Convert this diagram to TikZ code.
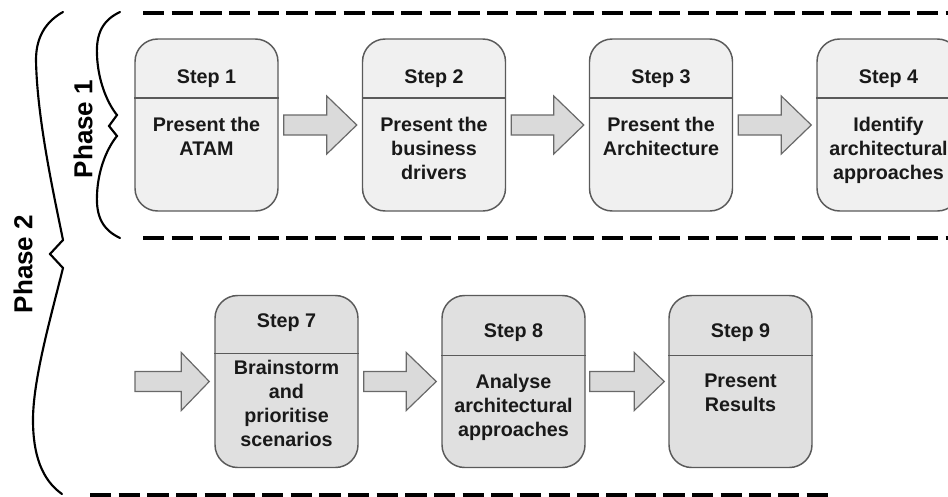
\documentclass[tikz,border=0pt]{standalone}
\usepackage{fontspec}
\setmainfont{Liberation Sans}
\usetikzlibrary{calc}
\definecolor{boxline}{RGB}{90,90,90}
\definecolor{boxlight}{RGB}{240,240,240}
\definecolor{boxdark}{RGB}{224,224,224}
\definecolor{arrowfill}{RGB}{218,218,218}
\definecolor{arrowline}{RGB}{105,105,105}

\begin{document}
\begin{tikzpicture}[x=0.75pt,y=0.75pt,yscale=-1,xscale=1,
  stepbox/.style={draw=boxline, line width=1.1pt, fill=boxlight, rounded corners=17pt, minimum width=107.25pt, minimum height=129pt, inner sep=0pt},
  stepboxdark/.style={stepbox, fill=boxdark},
  steptitle/.style={anchor=north, inner sep=0pt, text=black!90, font=\fontsize{14.8}{18}\selectfont\bfseries},
  steptext/.style={steptitle, align=center},
  divider/.style={draw=boxline, line width=1.1pt},
  blockarrow/.style={draw=arrowline, line width=0.9pt, fill=arrowfill, line join=miter},
  phaseline/.style={line width=2.6pt, dash pattern=on 16pt off 5.5pt},
  phasebrace/.style={line width=1.6pt, line cap=round},
  phaselabel/.style={rotate=90, inner sep=0pt, font=\fontsize{19.5}{22}\selectfont\bfseries}]
\useasboundingbox (0,0) rectangle (948,496);

%Shape: Phase lines
\draw[phaseline] (143,13) -- (948,13);
\draw[phaseline] (143,238) -- (948,238);
\draw[phaseline, line width=3.6pt] (90,495) -- (830,495);

%Shape: Brace Phase 1
\draw[phasebrace] (120,12) .. controls (103,20) and (96,33) .. (97,55) .. controls (98,82) and (108,104) .. (117,115) -- (109,126) -- (117,136) .. controls (108,147) and (98,168) .. (97,195) .. controls (96,217) and (103,230) .. (120,238);
%Shape: Brace Phase 2
\draw[phasebrace] (63,12) .. controls (45,22) and (36,38) .. (36,60) .. controls (37,120) and (55,200) .. (63,240) -- (50,254) -- (63,268) .. controls (50,320) and (33,380) .. (33,420) .. controls (33,455) and (42,480) .. (62,494);

% Text Node
\node[phaselabel] (ph1) at (83,129) {Phase 1};
\node[phaselabel] (ph2) at (23,264) {Phase 2};

% Phase 1 steps
\node[stepbox] (s1) at (206.5,125) {};
\node[stepbox] (s2) at (434,125) {};
\node[stepbox] (s3) at (661,125) {};
\node[stepbox] (s4) at (888.5,125) {};
\draw[divider] ($(s1.west)+(0,-27)$) -- ($(s1.east)+(0,-27)$);
\draw[divider] ($(s2.west)+(0,-27)$) -- ($(s2.east)+(0,-27)$);
\draw[divider] ($(s3.west)+(0,-27)$) -- ($(s3.east)+(0,-27)$);
\draw[divider] ($(s4.west)+(0,-27)$) -- ($(s4.east)+(0,-27)$);

\node[steptitle] (t1) at ($(s1.north)+(0,31)$) {Step 1};
\node[steptitle] (t2) at ($(s2.north)+(0,31)$) {Step 2};
\node[steptitle] (t3) at ($(s3.north)+(0,31)$) {Step 3};
\node[steptitle] (t4) at ($(s4.north)+(0,31)$) {Step 4};
\node[steptext] (b1) at ($(s1.north)+(0,79)$) {Present the\\ATAM};
\node[steptext] (b2) at ($(s2.north)+(0,79)$) {Present the\\business\\drivers};
\node[steptext] (b3) at ($(s3.north)+(0,79)$) {Present the\\Architecture};
\node[steptext] (b4) at ($(s4.north)+(0,79)$) {Identify\\architectural\\approaches};

% Phase 2 steps
\node[stepboxdark] (s7) at (286.5,381.5) {};
\node[stepboxdark] (s8) at (513.5,381.5) {};
\node[stepboxdark] (s9) at (740.5,381.5) {};
\draw[divider] ($(s7.west)+(0,-28)$) -- ($(s7.east)+(0,-28)$);
\draw[divider] ($(s8.west)+(0,-26)$) -- ($(s8.east)+(0,-26)$);
\draw[divider] ($(s9.west)+(0,-26)$) -- ($(s9.east)+(0,-26)$);

\node[steptitle] (t7) at ($(s7.north)+(0,19)$) {Step 7};
\node[steptitle] (t8) at ($(s8.north)+(0,29)$) {Step 8};
\node[steptitle] (t9) at ($(s9.north)+(0,29)$) {Step 9};
\node[steptext] (b7) at ($(s7.north)+(0,65)$) {Brainstorm\\and\\prioritise\\scenarios};
\node[steptext] (b8) at ($(s8.north)+(0,79)$) {Analyse\\architectural\\approaches};
\node[steptext] (b9) at ($(s9.north)+(0,79)$) {Present\\Results};

% Arrows
\draw[blockarrow] ($(s1.east)+(5,-10)$) -- ($(s2.west)+(-35,-10)$) -- ($(s2.west)+(-35,-29)$) -- ($(s2.west)+(-5,0)$) -- ($(s2.west)+(-35,29)$) -- ($(s2.west)+(-35,10)$) -- ($(s1.east)+(5,10)$) -- cycle;
\draw[blockarrow] ($(s2.east)+(5,-10)$) -- ($(s3.west)+(-35,-10)$) -- ($(s3.west)+(-35,-29)$) -- ($(s3.west)+(-5,0)$) -- ($(s3.west)+(-35,29)$) -- ($(s3.west)+(-35,10)$) -- ($(s2.east)+(5,10)$) -- cycle;
\draw[blockarrow] ($(s3.east)+(5,-10)$) -- ($(s4.west)+(-35,-10)$) -- ($(s4.west)+(-35,-29)$) -- ($(s4.west)+(-5,0)$) -- ($(s4.west)+(-35,29)$) -- ($(s4.west)+(-35,10)$) -- ($(s3.east)+(5,10)$) -- cycle;

\coordinate (in7) at (135,381.5);
\draw[blockarrow] ($(in7)+(0,-10)$) -- ($(s7.west)+(-33,-10)$) -- ($(s7.west)+(-33,-29)$) -- ($(s7.west)+(-5,0)$) -- ($(s7.west)+(-33,29)$) -- ($(s7.west)+(-33,10)$) -- ($(in7)+(0,10)$) -- cycle;
\draw[blockarrow] ($(s7.east)+(5,-10)$) -- ($(s8.west)+(-35,-10)$) -- ($(s8.west)+(-35,-29)$) -- ($(s8.west)+(-5,0)$) -- ($(s8.west)+(-35,29)$) -- ($(s8.west)+(-35,10)$) -- ($(s7.east)+(5,10)$) -- cycle;
\draw[blockarrow] ($(s8.east)+(4,-10)$) -- ($(s9.west)+(-34,-10)$) -- ($(s9.west)+(-34,-29)$) -- ($(s9.west)+(-4,0)$) -- ($(s9.west)+(-34,29)$) -- ($(s9.west)+(-34,10)$) -- ($(s8.east)+(4,10)$) -- cycle;

\end{tikzpicture}
\end{document}
